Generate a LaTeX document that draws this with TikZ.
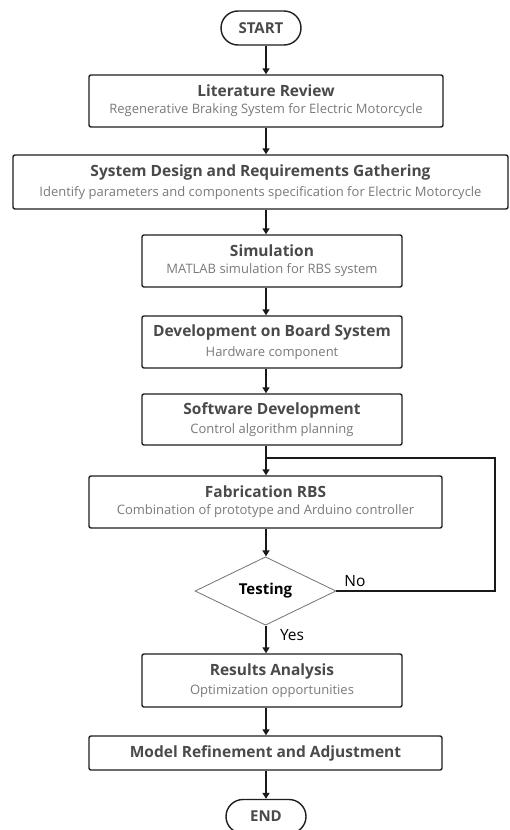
\documentclass[tikz,border=0pt]{standalone}
\usepackage{fontspec}
\setmainfont{Open Sans}
\usetikzlibrary{arrows.meta,shapes.geometric}

\definecolor{titlegray}{HTML}{4A4A4A}
\definecolor{subgray}{HTML}{7A7A7A}
\definecolor{edgegray}{HTML}{1E1E1E}

% title line and grey description line of one stage
\newcommand{\stage}[2]{{\fontsize{15.5}{17}\selectfont\bfseries\color{titlegray}#1}\\[5pt]{\fontsize{13}{14}\selectfont\color{subgray}#2}}

\tikzset{
	stagebox/.style={draw=edgegray,line width=1.4pt,rounded corners=2pt,fill=white,align=center,inner sep=0pt},
	terminal/.style={draw=edgegray,line width=1.4pt,rounded corners=17pt,minimum width=80pt,minimum height=34pt,inner sep=0pt,font=\fontsize{15}{17}\selectfont\bfseries,text=titlegray},
	decision/.style={diamond,draw=black!55,line width=0.8pt,minimum width=141pt,minimum height=68pt,inner sep=0pt,font=\fontsize{15}{17}\selectfont\bfseries},
	flow/.style={line width=1.6pt,draw=black!90,-{Triangle[length=6pt,width=7pt]}},
	loopline/.style={line width=1.6pt,draw=black!90},
	answer/.style={font=\fontsize{15.5}{17}\selectfont,inner sep=0pt}
}

\begin{document}
\begin{tikzpicture}[x=1pt,y=-1pt]
			%%%%% START %%%%%
			\fill[white] (0,0) rectangle (509,830);
			\useasboundingbox (0,0) rectangle (509,830);
			
			\coordinate (spine) at (266,0);
			
			\node[terminal] (start) at (261,28) {START};
			
			\node[stagebox,minimum width=354pt,minimum height=52pt] (lit) at (266,101)
				{\stage{Literature Review}{Regenerative Braking System for Electric Motorcycle}};
			\node[stagebox,minimum width=495pt,minimum height=54pt] (sysd) at (260.5,182)
				{\stage{System Design and Requirements Gathering}{Identify parameters and components specification for Electric Motorcycle}};
			\node[stagebox,minimum width=260pt,minimum height=52pt] (sim) at (272,261)
				{\stage{Simulation}{MATLAB simulation for RBS system}};
			\node[stagebox,minimum width=260pt,minimum height=52pt] (dev) at (272,342)
				{\stage{Development on Board System}{Hardware component}};
			\node[stagebox,minimum width=260pt,minimum height=51pt] (soft) at (272,419.5)
				{\stage{Software Development}{Control algorithm planning}};
			\node[stagebox,minimum width=353pt,minimum height=52pt] (fab) at (265.5,502)
				{\stage{Fabrication RBS}{Combination of prototype and Arduino controller}};
			
			\node[decision] (test) at (265.5,591) {Testing};
			
			\node[stagebox,minimum width=260pt,minimum height=53pt] (res) at (272,680.5)
				{\stage{Results Analysis}{Optimization opportunities}};
			\node[stagebox,minimum width=353pt,minimum height=34pt,font=\fontsize{15.5}{17}\selectfont\bfseries,text=titlegray] (model) at (265.5,753)
				{Model Refinement and Adjustment};
			
			\node[terminal] (fin) at (266,816.5) {END};
			
			% main flow down the middle
			\draw[flow] (spine |- start.south) -- (spine |- lit.north);
			\draw[flow] (spine |- lit.south) -- (spine |- sysd.north);
			\draw[flow] (spine |- sysd.south) -- (spine |- sim.north);
			\draw[flow] (spine |- sim.south) -- (spine |- dev.north);
			\draw[flow] (spine |- dev.south) -- (spine |- soft.north);
			\draw[flow] (spine |- soft.south) -- (spine |- fab.north);
			\draw[flow] (spine |- fab.south) -- (spine |- test.north);
			\draw[flow] (spine |- test.south) -- (spine |- res.north);
			\draw[flow] (spine |- res.south) -- (spine |- model.north);
			\draw[flow] (spine |- model.south) -- (spine |- fin.north);
			
			% failed test goes back above the fabrication step
			\coordinate (noturn) at (495,458);
			\draw[loopline] (test.east) -| (noturn) -- (spine |- noturn);
			
			\node[answer] (nolbl) at (355,581) {No};
			\node[answer] (yeslbl) at (292,635) {Yes};
			%%%%% END %%%%%
\end{tikzpicture}
\end{document}
